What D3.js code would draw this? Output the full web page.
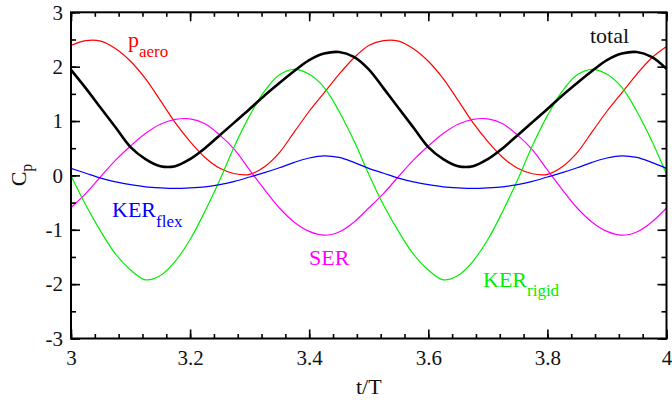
<!DOCTYPE html>
<html>
<head>
<meta charset="utf-8">
<script src="https://cdn.jsdelivr.net/npm/d3@7"></script>
<style>
  body { margin: 0; background: #fff; }
  svg { display: block; }
  text { font-family: "Liberation Serif", "Times New Roman", serif; }
</style>
</head>
<body>
<svg id="chart"></svg>
<script>
// t/T sample points, 3.0 .. 4.0 every 0.025
const tValues = d3.range(41).map((i) => +(3 + i * 0.025).toFixed(3));

const total = [1.94, 1.60, 1.24, 0.88, 0.52, 0.30, 0.17, 0.17, 0.30, 0.50, 0.74, 0.98, 1.22, 1.47, 1.70, 1.92, 2.12, 2.24, 2.27, 2.18, 1.95,
  1.60, 1.24, 0.88, 0.52, 0.30, 0.17, 0.17, 0.30, 0.50, 0.74, 0.98, 1.22, 1.47, 1.70, 1.92, 2.12, 2.24, 2.27, 2.18, 1.96];
const pAero = [2.39, 2.48, 2.47, 2.33, 2.10, 1.78, 1.38, 0.97, 0.62, 0.33, 0.13, 0.03, 0.02, 0.16, 0.42, 0.80, 1.18, 1.52, 1.86, 2.16, 2.39,
  2.48, 2.47, 2.33, 2.10, 1.78, 1.38, 0.97, 0.62, 0.33, 0.13, 0.03, 0.02, 0.16, 0.42, 0.80, 1.18, 1.52, 1.86, 2.16, 2.37];
const ser = [-0.59, -0.33, -0.02, 0.28, 0.54, 0.77, 0.94, 1.03, 1.04, 0.95, 0.74, 0.47, 0.10, -0.26, -0.60, -0.86, -1.03, -1.10, -1.04, -0.86, -0.60,
  -0.33, -0.02, 0.28, 0.54, 0.77, 0.94, 1.03, 1.04, 0.95, 0.74, 0.47, 0.10, -0.26, -0.60, -0.86, -1.03, -1.10, -1.04, -0.86, -0.60];
const kerFlex = [0.13, 0.04, -0.05, -0.12, -0.17, -0.21, -0.23, -0.24, -0.23, -0.21, -0.17, -0.11, -0.03, 0.05, 0.14, 0.24, 0.32, 0.36, 0.33, 0.24, 0.13,
  0.04, -0.05, -0.12, -0.17, -0.21, -0.23, -0.24, -0.23, -0.21, -0.17, -0.11, -0.03, 0.05, 0.14, 0.24, 0.32, 0.36, 0.33, 0.24, 0.13];
const kerRigid = [0.00, -0.55, -1.03, -1.45, -1.74, -1.92, -1.84, -1.58, -1.18, -0.66, -0.08, 0.55, 1.10, 1.55, 1.85, 1.95, 1.86, 1.62, 1.18, 0.64, 0.02,
  -0.55, -1.03, -1.45, -1.74, -1.92, -1.84, -1.58, -1.18, -0.66, -0.08, 0.55, 1.10, 1.55, 1.85, 1.95, 1.86, 1.62, 1.18, 0.64, 0.02];

const xMajor = [3, 3.2, 3.4, 3.6, 3.8, 4];
const xMinor = d3.range(26).map((i) => 3 + i * 0.04);
const yMajor = [-3, -2, -1, 0, 1, 2, 3];
const yMinor = d3.range(13).map((i) => -3 + i * 0.5);

const series = [
  { name: "pAero", values: pAero, color: "#ff0000", width: 1.2 },
  { name: "ser", values: ser, color: "#ff00ff", width: 1.2 },
  { name: "kerRigid", values: kerRigid, color: "#00ee00", width: 1.2 },
  { name: "kerFlex", values: kerFlex, color: "#0000ff", width: 1.2 },
  { name: "total", values: total, color: "#000000", width: 2.6 },
];

const width = 672;
const height = 402;
const plotLeft = 71, plotRight = 666.5, plotTop = 12.3, plotBottom = 338.5;

const svg = d3.select("#chart").attr("width", width).attr("height", height);

const x = d3.scaleLinear().domain([3, 4]).range([plotLeft, plotRight]);
const y = d3.scaleLinear().domain([-3, 3]).range([plotBottom, plotTop]);

// curves
const line = d3
  .line()
  .x((d) => x(d[0]))
  .y((d) => y(d[1]))
  .curve(d3.curveCatmullRom.alpha(0.5));

const plot = svg.append("g");
series.forEach((s) => {
  plot
    .append("path")
    .datum(tValues.map((t, i) => [t, s.values[i]]))
    .attr("fill", "none")
    .attr("stroke", s.color)
    .attr("stroke-width", s.width)
    .attr("d", line);
});

// axes, ticks pointing inward on all four sides
function styleAxis(g) {
  g.select(".domain").remove();
  g.selectAll(".tick line").attr("stroke", "#000").attr("stroke-width", 1.6);
  g.selectAll("text").attr("font-size", 21).attr("fill", "#111");
}

svg.append("g").attr("transform", `translate(0,${plotBottom})`)
  .call(d3.axisBottom(x).tickValues(xMinor).tickSize(-4.5).tickFormat(""))
  .call(styleAxis);
svg.append("g").attr("transform", `translate(0,${plotBottom})`)
  .call(d3.axisBottom(x).tickValues(xMajor).tickSize(-9).tickPadding(12).tickFormat(d3.format("")))
  .call(styleAxis);
svg.append("g").attr("transform", `translate(0,${plotTop})`)
  .call(d3.axisTop(x).tickValues(xMinor).tickSize(-4.5).tickFormat(""))
  .call(styleAxis);
svg.append("g").attr("transform", `translate(0,${plotTop})`)
  .call(d3.axisTop(x).tickValues(xMajor).tickSize(-9).tickFormat(""))
  .call(styleAxis);

svg.append("g").attr("transform", `translate(${plotLeft},0)`)
  .call(d3.axisLeft(y).tickValues(yMinor).tickSize(-5).tickFormat(""))
  .call(styleAxis);
svg.append("g").attr("transform", `translate(${plotLeft},0)`)
  .call(d3.axisLeft(y).tickValues(yMajor).tickSize(-9).tickPadding(8).tickFormat((d) => String(d)))
  .call(styleAxis);
svg.append("g").attr("transform", `translate(${plotRight},0)`)
  .call(d3.axisRight(y).tickValues(yMinor).tickSize(-5).tickFormat(""))
  .call(styleAxis);
svg.append("g").attr("transform", `translate(${plotRight},0)`)
  .call(d3.axisRight(y).tickValues(yMajor).tickSize(-9).tickFormat(""))
  .call(styleAxis);

// frame
svg.append("rect")
  .attr("x", plotLeft).attr("y", plotTop)
  .attr("width", plotRight - plotLeft).attr("height", plotBottom - plotTop)
  .attr("fill", "none").attr("stroke", "#000").attr("stroke-width", 2);

// axis titles
svg.append("text")
  .attr("x", (plotLeft + plotRight) / 2).attr("y", 394)
  .attr("text-anchor", "middle").attr("font-size", 22).attr("fill", "#111")
  .text("t/T");

const yTitle = svg.append("text")
  .attr("transform", "translate(26,175) rotate(-90)")
  .attr("text-anchor", "middle").attr("font-size", 22).attr("fill", "#111");
yTitle.append("tspan").text("C");
yTitle.append("tspan").attr("font-size", 16).attr("dy", 6).text("p");

// curve labels
function label(xp, yp, main, sub, color, dy) {
  const t = svg.append("text").attr("x", xp).attr("y", yp)
    .attr("font-size", 22).attr("fill", color);
  t.append("tspan").text(main);
  if (sub) t.append("tspan").attr("font-size", 17).attr("dy", dy).text(sub);
}
label(128, 47, "p", "aero", "#ff0000", 10);
label(590, 43, "total", null, "#111");
label(112, 216.5, "KER", "flex", "#0000ff", 10);
label(309, 265, "SER", null, "#ff00ff");
label(483, 286.5, "KER", "rigid", "#00ee00", 9.5);
</script>
</body>
</html>
